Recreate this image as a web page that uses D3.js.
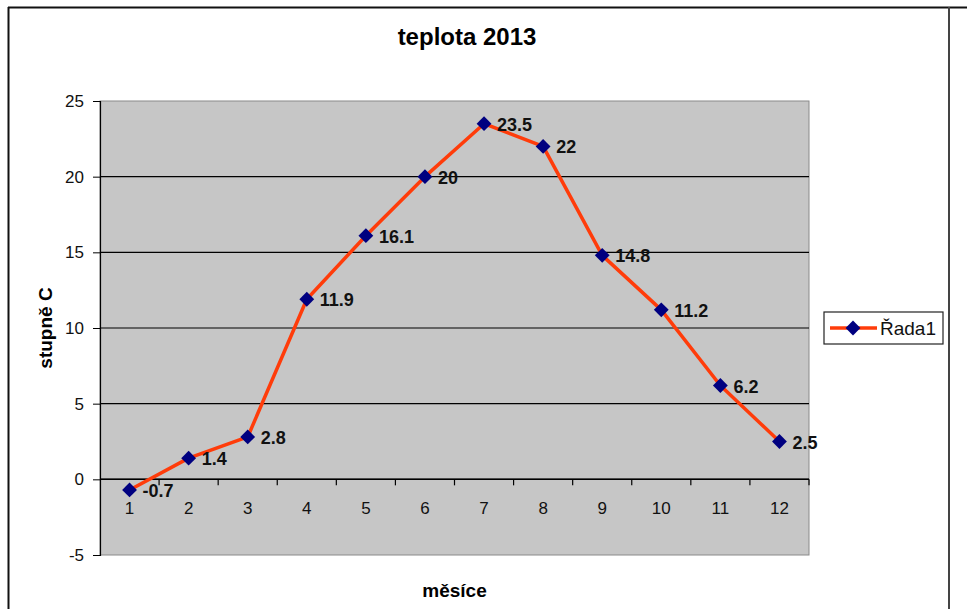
<!DOCTYPE html>
<html>
<head>
<meta charset="utf-8">
<script src="https://cdn.jsdelivr.net/npm/d3@7"></script>
<style>
  body { margin: 0; background: #fff; }
  svg { display: block; font-family: "Liberation Sans", Arial, sans-serif; }
</style>
</head>
<body>
<svg id="chart" width="967" height="609"></svg>
<script>
var months = ["1","2","3","4","5","6","7","8","9","10","11","12"];
var temps = [-0.7, 1.4, 2.8, 11.9, 16.1, 20, 23.5, 22, 14.8, 11.2, 6.2, 2.5];
var yTicks = [-5, 0, 5, 10, 15, 20, 25];
var seriesName = "Řada1";

window.addEventListener( "load", makeChart );
function makeChart() {
    var svg = d3.select( "#chart" );
    var x0 = 100, x1 = 809, y0 = 101, y1 = 555;

    // chart frame
    svg.append( "line" ).attr( "x1", 8 ).attr( "x2", 967 ).attr( "y1", 7.5 ).attr( "y2", 7.5 )
        .attr( "stroke", "#111" ).attr( "stroke-width", 2 );
    svg.append( "line" ).attr( "x1", 8.5 ).attr( "x2", 8.5 ).attr( "y1", 7 ).attr( "y2", 609 )
        .attr( "stroke", "#111" ).attr( "stroke-width", 2 );
    svg.append( "line" ).attr( "x1", 949 ).attr( "x2", 949 ).attr( "y1", 7 ).attr( "y2", 609 )
        .attr( "stroke", "#444" ).attr( "stroke-width", 2 );

    var scX = d3.scalePoint().domain( months ).range( [x0, x1] ).padding( 0.5 );
    var step = scX.step();
    var scY = d3.scaleLinear().domain( [-5, 25] ).range( [y1, y0] );

    // plot area
    svg.append( "rect" ).attr( "x", x0 ).attr( "y", y0 )
        .attr( "width", x1-x0 ).attr( "height", y1-y0 )
        .attr( "fill", "#c6c6c6" ).attr( "stroke", "#8a8a8a" );

    // gridlines
    svg.append( "g" ).selectAll( "line" ).data( yTicks.filter( d => d > -5 && d < 25 ) ).enter()
        .append( "line" ).attr( "x1", x0 ).attr( "x2", x1 )
        .attr( "y1", d => scY(d) ).attr( "y2", d => scY(d) )
        .attr( "stroke", "#000" ).attr( "stroke-width", 1.2 );

    // y axis
    var gy = svg.append( "g" ).attr( "transform", "translate(" + x0 + ",0)" )
        .call( d3.axisLeft( scY ).tickValues( yTicks ).tickSize( 7 ).tickPadding( 9 )
               .tickFormat( d => String( d ) ) );
    gy.select( ".domain" ).attr( "stroke", "#000" ).attr( "stroke-width", 1.2 );
    gy.selectAll( "line" ).attr( "stroke", "#000" );
    gy.selectAll( "text" ).attr( "font-size", 17 ).attr( "fill", "#111" )
        .attr( "font-family", "Liberation Sans, Arial, sans-serif" );

    // x axis at zero with boundary ticks
    var gx = svg.append( "g" );
    gx.append( "line" ).attr( "x1", x0 ).attr( "x2", x1 )
        .attr( "y1", scY(0) ).attr( "y2", scY(0) ).attr( "stroke", "#000" ).attr( "stroke-width", 1.5 );
    gx.selectAll( "line.tk" ).data( d3.range( 1, months.length + 1 ) ).enter()
        .append( "line" ).attr( "class", "tk" )
        .attr( "x1", i => x0 + i*step ).attr( "x2", i => x0 + i*step )
        .attr( "y1", scY(0) ).attr( "y2", scY(0) + 6 ).attr( "stroke", "#000" ).attr( "stroke-width", 1.2 );
    gx.selectAll( "text" ).data( months ).enter().append( "text" )
        .attr( "x", d => scX(d) ).attr( "y", scY(0) + 35 )
        .attr( "text-anchor", "middle" ).attr( "font-size", 17 ).attr( "fill", "#111" )
        .text( d => d );

    // series line
    var line = d3.line().x( (d,i) => scX( months[i] ) ).y( d => scY(d) );
    svg.append( "path" ).datum( temps ).attr( "d", line )
        .attr( "fill", "none" ).attr( "stroke", "#ff3c0a" ).attr( "stroke-width", 3.5 )
        .attr( "stroke-linejoin", "round" );

    // markers
    var diamond = d3.symbol().type( d3.symbolDiamond2 ).size( 140 );
    svg.append( "g" ).selectAll( "path" ).data( temps ).enter().append( "path" )
        .attr( "d", diamond )
        .attr( "transform", (d,i) => "translate(" + scX( months[i] ) + "," + scY(d) + ")" )
        .attr( "fill", "#000080" );

    // data labels
    svg.append( "g" ).selectAll( "text" ).data( temps ).enter().append( "text" )
        .attr( "x", (d,i) => scX( months[i] ) + 13 ).attr( "y", d => scY(d) + 7 )
        .attr( "font-size", 18 ).attr( "font-weight", "bold" ).attr( "fill", "#111" )
        .text( d => String( d ) );

    // titles
    svg.append( "text" ).attr( "x", 467 ).attr( "y", 45 ).attr( "text-anchor", "middle" )
        .attr( "font-size", 24 ).attr( "font-weight", "bold" ).text( "teplota 2013" );
    svg.append( "text" ).attr( "x", (x0+x1)/2 ).attr( "y", 597 ).attr( "text-anchor", "middle" )
        .attr( "font-size", 19 ).attr( "font-weight", "bold" ).text( "měsíce" );
    svg.append( "text" ).attr( "transform", "translate(52," + (y0+y1)/2 + ") rotate(-90)" )
        .attr( "text-anchor", "middle" ).attr( "font-size", 19 ).attr( "font-weight", "bold" )
        .text( "stupně C" );

    // legend
    var lg = svg.append( "g" ).attr( "transform", "translate(824,312)" );
    lg.append( "rect" ).attr( "width", 119 ).attr( "height", 32 )
        .attr( "fill", "#fff" ).attr( "stroke", "#222" ).attr( "stroke-width", 1.2 );
    lg.append( "line" ).attr( "x1", 6 ).attr( "x2", 53 ).attr( "y1", 16 ).attr( "y2", 16 )
        .attr( "stroke", "#ff3c0a" ).attr( "stroke-width", 3.5 );
    lg.append( "path" ).attr( "d", diamond ).attr( "transform", "translate(29,16)" ).attr( "fill", "#000080" );
    lg.append( "text" ).attr( "x", 56 ).attr( "y", 23 ).attr( "font-size", 19 ).attr( "fill", "#111" )
        .text( seriesName );
}
</script>
</body>
</html>
